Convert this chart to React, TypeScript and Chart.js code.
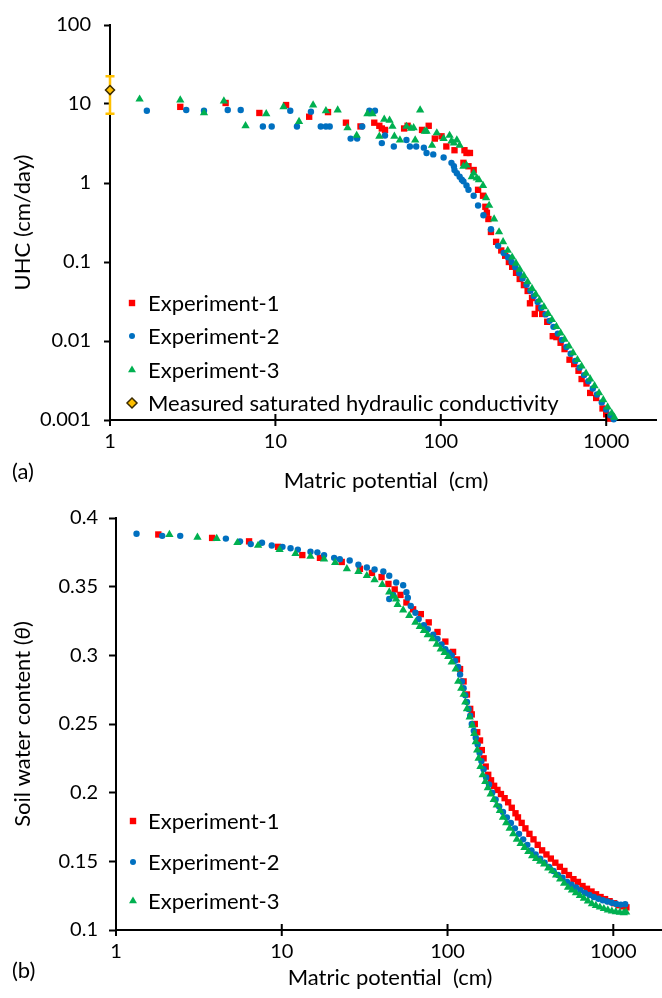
import React, { useEffect, useRef } from 'react';
import { Chart, registerables } from 'chart.js';

Chart.register(...registerables);

const FONT_FAMILY = 'Lato, "Open Sans", "DejaVu Sans", sans-serif';
const TICK_FONT_SIZE = 20;
const TEXT_FONT_SIZE = 22;

const RED = '#FF0000';
const BLUE = '#0070C0';
const GREEN = '#00B050';
const GOLD = '#FFC000';

// ---------- Panel (a): unsaturated hydraulic conductivity ----------
const uhcExp1X = [2.66, 5.0, 8.0, 11.6, 16, 20.8, 26.7, 32.7, 39.6, 42.5, 44, 46, 60, 63, 77, 84.5, 92, 101, 108, 121, 137, 139, 143, 147, 150, 158, 168, 180, 186, 190, 194, 201, 216, 232, 245, 258, 270, 285, 300, 318, 335, 346, 356, 370, 390, 410, 440, 475, 500, 530, 560, 600, 640, 680, 710, 760, 800, 870, 950, 1000, 1040];
const uhcExp1Y = [9.2, 10.3, 7.7, 9.7, 6.9, 7.9, 5.8, 5.2, 5.8, 5.3, 4.9, 4.7, 4.9, 5.3, 4.7, 5.3, 3.65, 3.9, 2.9, 2.6, 1.8, 2.6, 2.4, 1.63, 2.4, 1.46, 0.82, 0.69, 0.5, 0.42, 0.35, 0.24, 0.18, 0.14, 0.12, 0.1, 0.087, 0.073, 0.061, 0.051, 0.043, 0.030, 0.035, 0.022, 0.026, 0.022, 0.0175, 0.0115, 0.0112, 0.0095, 0.0079, 0.0058, 0.0051, 0.0042, 0.0033, 0.0029, 0.0022, 0.0019, 0.0014, 0.00118, 0.00104];

const uhcExp2X = [1.67, 2.89, 3.7, 5.15, 6.17, 8.4, 9.5, 12.3, 13.5, 16.4, 18.8, 20.2, 21.3, 28.5, 31.2, 33.5, 37, 40, 44, 46, 52, 62, 65, 71, 79, 82, 90, 104, 116, 120, 121, 125, 130, 134, 137, 143, 147, 158, 168, 181, 201, 222, 240, 255, 268, 282, 298, 312, 330, 348, 365, 385, 405, 430, 455, 480, 510, 540, 575, 610, 650, 690, 735, 780, 830, 880, 940, 1000, 1060, 1110];
const uhcExp2Y = [8.2, 8.4, 8.2, 8.4, 8.4, 5.2, 5.2, 8.2, 5.2, 8.0, 5.2, 5.2, 5.2, 3.65, 3.65, 5.2, 8.2, 8.2, 3.2, 4.0, 2.9, 3.5, 2.9, 2.9, 2.8, 2.4, 2.3, 2.1, 1.8, 1.63, 1.46, 1.33, 1.2, 1.1, 1.05, 0.93, 0.82, 0.69, 0.52, 0.39, 0.26, 0.16, 0.13, 0.115, 0.1, 0.086, 0.072, 0.062, 0.0516, 0.0434, 0.037, 0.0312, 0.0264, 0.0217, 0.018, 0.0151, 0.0124, 0.0103, 0.0084, 0.0069, 0.0056, 0.0046, 0.0037, 0.0031, 0.0025, 0.0021, 0.00167, 0.00136, 0.00115, 0.00102];

const uhcExp3X = [1.51, 2.66, 3.7, 4.88, 6.6, 8.8, 11.2, 13.9, 16.9, 20.2, 23.8, 27.3, 31, 36, 38.6, 42.5, 45.5, 49, 51, 52.4, 56.6, 62, 66, 68.5, 70, 75, 80, 82, 88.5, 94.6, 104, 113, 116, 120, 125, 130, 137, 143, 154, 158, 165, 170, 180, 188, 196, 210, 225, 238, 254, 270, 285, 300, 318, 335, 356, 375, 395, 420, 445, 470, 500, 530, 560, 595, 630, 670, 710, 755, 800, 850, 905, 960, 1020, 1080, 1120];
const uhcExp3Y = [11.5, 11.2, 7.7, 10.9, 5.3, 7.5, 9.2, 6.0, 9.7, 8.2, 8.4, 5.0, 4.0, 7.5, 7.5, 3.9, 6.4, 6.2, 5.2, 3.9, 3.5, 5.2, 4.9, 5.0, 3.5, 8.4, 4.5, 4.5, 3.0, 4.3, 3.65, 4.0, 3.4, 3.2, 3.5, 3.0, 1.63, 1.68, 1.2, 1.33, 1.15, 1.1, 0.93, 0.65, 0.52, 0.35, 0.24, 0.18, 0.14, 0.115, 0.096, 0.081, 0.067, 0.056, 0.046, 0.039, 0.033, 0.027, 0.0223, 0.0186, 0.0152, 0.0126, 0.0105, 0.0086, 0.0071, 0.0058, 0.0048, 0.0039, 0.0033, 0.0027, 0.0022, 0.0018, 0.00146, 0.00122, 0.00108];

const ksX = [1];
const ksY = [15];
const ksLow = [7.5];
const ksHigh = [22.5];

// ---------- Panel (b): soil water content ----------
const swcExp1X = [1.8, 3.8, 6.35, 9.5, 13.3, 17, 23, 29.6, 35, 40, 44, 48, 52, 56.5, 62, 69, 77, 87, 97, 108, 114, 119, 125, 131, 137, 140, 146, 151, 157, 161, 165, 170, 176, 183, 191, 200, 210, 221, 232, 244, 257, 266, 280, 295, 312, 330, 350, 372, 395, 420, 447, 476, 507, 540, 575, 612, 652, 694, 739, 787, 838, 892, 950, 1012, 1078, 1148, 1200];
const swcExp1Y = [0.388, 0.3855, 0.383, 0.379, 0.373, 0.371, 0.368, 0.363, 0.360, 0.357, 0.352, 0.348, 0.344, 0.3385, 0.3335, 0.330, 0.324, 0.317, 0.310, 0.3025, 0.297, 0.290, 0.281, 0.2715, 0.261, 0.257, 0.250, 0.244, 0.238, 0.231, 0.225, 0.219, 0.213, 0.209, 0.205, 0.202, 0.199, 0.196, 0.193, 0.189, 0.185, 0.182, 0.178, 0.174, 0.170, 0.166, 0.162, 0.158, 0.155, 0.152, 0.149, 0.146, 0.143, 0.140, 0.137, 0.135, 0.132, 0.130, 0.128, 0.126, 0.124, 0.1225, 0.121, 0.1195, 0.118, 0.1172, 0.1165];

const swcExp2X = [1.33, 1.9, 2.44, 4.6, 5.6, 6.5, 7.6, 8.7, 10.1, 11.3, 12.5, 14.9, 16.4, 18, 20.7, 22.4, 25.7, 29, 32.6, 36.3, 41, 44.5, 44.5, 47, 49, 54, 56.5, 57.6, 60, 64, 67, 72, 76, 82, 87, 92, 97, 102, 106, 111, 116, 119, 122, 125, 128, 131, 134, 137, 140, 144, 148, 152, 156, 160, 165, 171, 178, 186, 195, 205, 216, 228, 241, 255, 270, 286, 303, 321, 340, 362, 385, 410, 436, 464, 494, 526, 560, 596, 634, 675, 718, 764, 813, 865, 920, 980, 1043, 1110, 1180];
const swcExp2Y = [0.3885, 0.387, 0.387, 0.385, 0.383, 0.381, 0.382, 0.380, 0.379, 0.378, 0.377, 0.3755, 0.375, 0.373, 0.371, 0.370, 0.369, 0.366, 0.364, 0.3625, 0.361, 0.358, 0.341, 0.344, 0.353, 0.351, 0.346, 0.342, 0.336, 0.331, 0.3265, 0.322, 0.319, 0.315, 0.312, 0.308, 0.3045, 0.302, 0.300, 0.296, 0.2915, 0.286, 0.281, 0.276, 0.271, 0.266, 0.261, 0.256, 0.250, 0.245, 0.240, 0.235, 0.229, 0.223, 0.217, 0.211, 0.206, 0.200, 0.195, 0.190, 0.186, 0.182, 0.178, 0.174, 0.170, 0.166, 0.162, 0.158, 0.155, 0.152, 0.149, 0.146, 0.143, 0.140, 0.138, 0.135, 0.133, 0.131, 0.129, 0.127, 0.1255, 0.124, 0.1228, 0.1217, 0.1207, 0.1198, 0.119, 0.1185, 0.1188];

const swcExp3X = [2.1, 3.1, 4.05, 5.4, 7.2, 9.7, 12.1, 14.9, 18, 21, 24.7, 29, 32.6, 36.3, 40.4, 44.5, 47, 49, 50, 54, 58.8, 64, 68, 72, 76, 81, 86, 91, 96, 101, 106, 112, 116, 121, 125, 128, 131, 136, 141, 145, 148, 151, 154, 158, 163, 169, 175, 182, 190, 198, 207, 216, 226, 237, 249, 262, 276, 291, 307, 324, 342, 362, 383, 405, 428, 452, 478, 505, 533, 563, 595, 629, 665, 703, 743, 785, 830, 877, 927, 980, 1036, 1095, 1157, 1195];
const swcExp3Y = [0.388, 0.386, 0.385, 0.382, 0.380, 0.377, 0.374, 0.372, 0.370, 0.3675, 0.363, 0.361, 0.358, 0.355, 0.3515, 0.346, 0.343, 0.341, 0.337, 0.333, 0.329, 0.324, 0.321, 0.318, 0.315, 0.312, 0.308, 0.3045, 0.302, 0.299, 0.295, 0.290, 0.281, 0.276, 0.2715, 0.266, 0.261, 0.255, 0.249, 0.243, 0.237, 0.231, 0.225, 0.219, 0.213, 0.208, 0.2035, 0.199, 0.195, 0.191, 0.187, 0.182, 0.178, 0.174, 0.170, 0.166, 0.163, 0.160, 0.157, 0.154, 0.152, 0.150, 0.148, 0.145, 0.143, 0.140, 0.137, 0.134, 0.131, 0.129, 0.127, 0.125, 0.123, 0.121, 0.119, 0.1178, 0.1166, 0.1155, 0.1145, 0.1137, 0.1132, 0.1128, 0.1125, 0.113];

// ---------- Axis ticks / labels ----------
const potentialTicks = [1, 10, 100, 1000];
const uhcTicks = [0.001, 0.01, 0.1, 1, 10, 100];
const swcTicks = [0.1, 0.15, 0.2, 0.25, 0.3, 0.35, 0.4];
const seriesLabels = ['Experiment-1', 'Experiment-2', 'Experiment-3'];
const ksLabel = 'Measured saturated hydraulic conductivity';
const xTitleText = 'Matric potential  (cm)';
const uhcTitleText = 'UHC (cm/day)';
const swcTitleParts = ['Soil water content (', 'θ', ')'];

function toPoints(xs: number[], ys: number[]) {
  return xs.map((x, i) => ({ x, y: ys[i] }));
}

type MarkerStyle = 'rect' | 'circle' | 'triangle' | 'rectRot';

function drawMarker(ctx: CanvasRenderingContext2D, style: MarkerStyle, cx: number, cy: number, fill: string, stroke?: string) {
  ctx.save();
  ctx.fillStyle = fill;
  ctx.beginPath();
  if (style === 'rect') {
    ctx.rect(cx - 3.2, cy - 3.2, 6.4, 6.4);
  } else if (style === 'circle') {
    ctx.arc(cx, cy, 3, 0, Math.PI * 2);
  } else if (style === 'triangle') {
    const r = 4.6;
    ctx.moveTo(cx, cy - r);
    ctx.lineTo(cx + r * 0.866, cy + r * 0.5);
    ctx.lineTo(cx - r * 0.866, cy + r * 0.5);
    ctx.closePath();
  } else {
    const r = 5;
    ctx.moveTo(cx, cy - r);
    ctx.lineTo(cx + r, cy);
    ctx.lineTo(cx, cy + r);
    ctx.lineTo(cx - r, cy);
    ctx.closePath();
  }
  ctx.fill();
  if (stroke) {
    ctx.strokeStyle = stroke;
    ctx.lineWidth = 1.5;
    ctx.stroke();
  }
  ctx.restore();
}

interface LegendItem { style: MarkerStyle; color: string; stroke?: string; text: string; }

interface OverlayOptions {
  legendItems: LegendItem[];
  legendMarkerX: number;
  legendTextX: number;
  legendRows: number[];
  xTitleY: number;
  xTitleCenter: number;
  yTitleX: number;
  yTitleParts: { text: string; italic?: boolean }[];
  panelText: string;
  panelX: number;
  panelY: number;
}

function makeOverlayPlugin(id: string, o: OverlayOptions) {
  return {
    id,
    afterDraw(chart: any) {
      const ctx: CanvasRenderingContext2D = chart.ctx;
      const area = chart.chartArea;
      const xs = chart.scales.x;
      ctx.save();
      // crossing tick marks on the x axis
      ctx.strokeStyle = '#000';
      ctx.lineWidth = 2;
      potentialTicks.forEach((v) => {
        const px = xs.getPixelForValue(v);
        ctx.beginPath();
        ctx.moveTo(px, area.bottom - 6);
        ctx.lineTo(px, area.bottom + 6);
        ctx.stroke();
      });
      // legend
      ctx.fillStyle = '#000';
      ctx.font = `${TEXT_FONT_SIZE}px ${FONT_FAMILY}`;
      ctx.textBaseline = 'middle';
      ctx.textAlign = 'left';
      o.legendItems.forEach((it, i) => {
        const cy = o.legendRows[i];
        drawMarker(ctx, it.style, o.legendMarkerX, cy, it.color, it.stroke);
        ctx.fillStyle = '#000';
        ctx.fillText(it.text, o.legendTextX, cy + 1);
      });
      // x title
      ctx.textAlign = 'center';
      ctx.fillText(xTitleText, o.xTitleCenter, o.xTitleY);
      // y title (rotated)
      ctx.save();
      ctx.translate(o.yTitleX, (area.top + area.bottom) / 2);
      ctx.rotate(-Math.PI / 2);
      ctx.textAlign = 'left';
      const fonts = o.yTitleParts.map((p) => `${p.italic ? 'italic ' : ''}${TEXT_FONT_SIZE}px ${FONT_FAMILY}`);
      const widths = o.yTitleParts.map((p, i) => { ctx.font = fonts[i]; return ctx.measureText(p.text).width; });
      const total = widths.reduce((a, b) => a + b, 0);
      let cx = -total / 2;
      o.yTitleParts.forEach((p, i) => {
        ctx.font = fonts[i];
        ctx.fillText(p.text, cx, 0);
        cx += widths[i];
      });
      ctx.restore();
      // panel label
      ctx.font = `${TEXT_FONT_SIZE}px ${FONT_FAMILY}`;
      ctx.textAlign = 'left';
      ctx.fillText(o.panelText, o.panelX, o.panelY);
      ctx.restore();
    },
  };
}

const errorBarPlugin = {
  id: 'ksErrorBar',
  beforeDatasetsDraw(chart: any) {
    const ctx: CanvasRenderingContext2D = chart.ctx;
    const { x, y } = chart.scales;
    ctx.save();
    ctx.strokeStyle = GOLD;
    ctx.lineWidth = 2.5;
    ksX.forEach((v, i) => {
      const px = x.getPixelForValue(v);
      const top = y.getPixelForValue(ksHigh[i]);
      const bot = y.getPixelForValue(ksLow[i]);
      ctx.beginPath();
      ctx.moveTo(px, top);
      ctx.lineTo(px, bot);
      ctx.moveTo(px - 4.5, top);
      ctx.lineTo(px + 4.5, top);
      ctx.moveTo(px - 4.5, bot);
      ctx.lineTo(px + 4.5, bot);
      ctx.stroke();
    });
    ctx.restore();
  },
};

const tickFont = { family: FONT_FAMILY, size: TICK_FONT_SIZE };

function xScale(height: number) {
  return {
    type: 'logarithmic' as const,
    min: 1,
    max: 2000,
    afterBuildTicks: (axis: any) => { axis.ticks = potentialTicks.map((v) => ({ value: v })); },
    afterFit: (axis: any) => { axis.height = height; },
    ticks: { callback: (v: any) => String(v), font: tickFont, color: '#000', padding: 10, maxRotation: 0, autoSkip: false },
    grid: { display: true, drawOnChartArea: false, drawTicks: false },
    border: { display: true, color: '#000', width: 2 },
  };
}

function pointDataset(label: string, data: any[], style: MarkerStyle, color: string, radius: number, order: number) {
  return {
    label,
    data,
    pointStyle: style,
    pointRadius: radius,
    pointHoverRadius: radius,
    backgroundColor: color,
    borderColor: color,
    borderWidth: 0,
    showLine: false,
    clip: false as const,
    order,
  };
}

function UhcChart() {
  const ref = useRef<HTMLCanvasElement>(null);
  useEffect(() => {
    if (!ref.current) return;
    const overlay = makeOverlayPlugin('uhcOverlay', {
      legendItems: [
        { style: 'rect', color: RED, text: seriesLabels[0] },
        { style: 'circle', color: BLUE, text: seriesLabels[1] },
        { style: 'triangle', color: GREEN, text: seriesLabels[2] },
        { style: 'rectRot', color: GOLD, stroke: '#3b2b00', text: ksLabel },
      ],
      legendMarkerX: 132,
      legendTextX: 148,
      legendRows: [303, 336, 370, 403],
      xTitleY: 481,
      xTitleCenter: 386,
      yTitleX: 23,
      yTitleParts: [{ text: uhcTitleText }],
      panelText: '(a)',
      panelX: 12,
      panelY: 472,
    });
    const chart = new Chart(ref.current, {
      type: 'scatter',
      data: {
        datasets: [
          pointDataset(seriesLabels[0], toPoints(uhcExp1X, uhcExp1Y), 'rect', RED, 4.5, 3),
          pointDataset(seriesLabels[1], toPoints(uhcExp2X, uhcExp2Y), 'circle', BLUE, 3.2, 2),
          pointDataset(seriesLabels[2], toPoints(uhcExp3X, uhcExp3Y), 'triangle', GREEN, 4.8, 1),
          { ...pointDataset(ksLabel, toPoints(ksX, ksY), 'rectRot', GOLD, 4.5, 0), borderColor: '#3b2b00', borderWidth: 1.5 },
        ],
      },
      options: {
        animation: false,
        responsive: false,
        devicePixelRatio: 1,
        layout: { padding: { top: 20, right: 1, left: 0, bottom: 0 } },
        plugins: { legend: { display: false }, tooltip: { enabled: false } },
        scales: {
          x: xScale(80),
          y: {
            type: 'logarithmic',
            min: 0.001,
            max: 100,
            afterBuildTicks: (axis: any) => { axis.ticks = uhcTicks.map((v) => ({ value: v })); },
            afterFit: (axis: any) => { axis.width = 110; },
            ticks: { callback: (v: any) => String(v), font: tickFont, color: '#000', padding: 13, autoSkip: false },
            grid: { display: true, drawOnChartArea: false, drawTicks: true, tickLength: 6, tickWidth: 2, tickColor: '#000' },
            border: { display: true, color: '#000', width: 2 },
          },
        },
      } as any,
      plugins: [errorBarPlugin, overlay],
    });
    return () => chart.destroy();
  }, []);
  return <canvas ref={ref} width={662} height={500} style={{ position: 'absolute', left: 0, top: 0, width: 662, height: 500 }} />;
}

function SwcChart() {
  const ref = useRef<HTMLCanvasElement>(null);
  useEffect(() => {
    if (!ref.current) return;
    const overlay = makeOverlayPlugin('swcOverlay', {
      legendItems: [
        { style: 'rect', color: RED, text: seriesLabels[0] },
        { style: 'circle', color: BLUE, text: seriesLabels[1] },
        { style: 'triangle', color: GREEN, text: seriesLabels[2] },
      ],
      legendMarkerX: 133,
      legendTextX: 148,
      legendRows: [326, 367, 406],
      xTitleY: 483,
      xTitleCenter: 390,
      yTitleX: 23,
      yTitleParts: [{ text: swcTitleParts[0] }, { text: swcTitleParts[1], italic: true }, { text: swcTitleParts[2] }],
      panelText: '(b)',
      panelX: 12,
      panelY: 476,
    });
    const chart = new Chart(ref.current, {
      type: 'scatter',
      data: {
        datasets: [
          pointDataset(seriesLabels[0], toPoints(swcExp1X, swcExp1Y), 'rect', RED, 4.5, 3),
          pointDataset(seriesLabels[1], toPoints(swcExp2X, swcExp2Y), 'circle', BLUE, 3.2, 2),
          pointDataset(seriesLabels[2], toPoints(swcExp3X, swcExp3Y), 'triangle', GREEN, 4.8, 1),
        ],
      },
      options: {
        animation: false,
        responsive: false,
        devicePixelRatio: 1,
        layout: { padding: { top: 20, right: 1, left: 0, bottom: 0 } },
        plugins: { legend: { display: false }, tooltip: { enabled: false } },
        scales: {
          x: xScale(68),
          y: {
            type: 'linear',
            min: 0.1,
            max: 0.4,
            afterBuildTicks: (axis: any) => { axis.ticks = swcTicks.map((v) => ({ value: v })); },
            afterFit: (axis: any) => { axis.width = 116; },
            ticks: { callback: (v: any) => String(v), font: tickFont, color: '#000', padding: 11, autoSkip: false },
            grid: { display: true, drawOnChartArea: false, drawTicks: true, tickLength: 7, tickWidth: 2, tickColor: '#000' },
            border: { display: true, color: '#000', width: 2 },
          },
        },
      } as any,
      plugins: [overlay],
    });
    return () => chart.destroy();
  }, []);
  return <canvas ref={ref} width={668} height={503} style={{ position: 'absolute', left: 0, top: 495, width: 668, height: 503 }} />;
}

export default function App() {
  return (
    <div style={{ position: 'absolute', left: 0, top: 0, width: 662, height: 998, background: '#fff', overflow: 'hidden' }}>
      <UhcChart />
      <SwcChart />
    </div>
  );
}
